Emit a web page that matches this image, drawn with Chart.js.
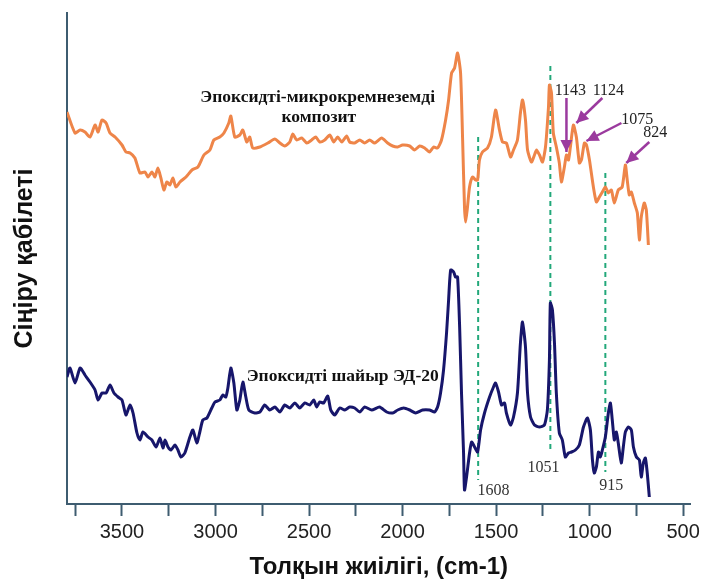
<!DOCTYPE html>
<html>
<head>
<meta charset="utf-8">
<script src="https://cdn.jsdelivr.net/npm/chart.js@4"></script>
<style>
  body { margin: 0; background: #fff; }
  canvas { display: block; }
</style>
</head>
<body>
<canvas id="chart" width="704" height="586"></canvas>
<script>
// wavenumbers (cm-1) and absorbance (arb. units)
const orangeWn = [3794,3751,3724,3698,3671,3644,3628,3607,3585,3564,3537,3500,3479,3457,3431,3404,3377,3361,3340,3324,3308,3292,3276,3260,3244,3228,3212,3190,3158,3126,3094,3062,3030,3009,2977,2955,2929,2918,2897,2870,2854,2833,2817,2801,2763,2720,2683,2656,2630,2603,2587,2566,2539,2512,2486,2464,2443,2416,2389,2368,2347,2325,2299,2283,2256,2229,2203,2176,2149,2112,2080,2053,2026,2000,1962,1936,1909,1882,1856,1834,1813,1792,1770,1754,1738,1722,1706,1690,1679,1669,1663,1653,1642,1626,1610,1599,1589,1573,1546,1525,1503,1482,1466,1445,1423,1407,1386,1370,1359,1343,1332,1311,1295,1284,1268,1252,1236,1220,1215,1204,1194,1178,1162,1151,1135,1124,1113,1103,1087,1071,1055,1044,1028,1017,1001,980,964,948,932,916,900,884,868,847,826,809,799,788,777,761,745,734,724,708,697,686];
const orangeAbs = [78.4,74.2,74.8,74.4,73.4,75.8,74.4,76.8,76.2,74.2,73.4,71.8,70.4,70.2,69.2,66.2,66.4,65.4,66.4,65.4,67.2,65.2,62.8,64.4,63.8,65.2,63.4,64.4,65.4,66.8,67.4,69.8,70.8,72.8,73.4,74.2,76.2,77.6,73.4,73.8,74.8,72.4,73.4,71.2,71.4,72.2,73.0,72.2,71.6,72.4,74.0,72.8,73.2,72.2,72.8,73.4,72.4,72.8,73.8,72.4,73.4,72.4,73.6,72.4,72.2,72.8,72.2,72.8,72.2,73.2,72.2,71.6,71.4,71.8,71.6,70.8,71.6,71.2,70.4,71.4,71.2,72.8,76.8,80.8,86.2,87.2,90.2,86.2,72.8,59.4,56.4,59.4,63.4,65.4,64.8,64.8,68.8,70.4,71.2,73.4,78.8,74.8,72.4,72.2,69.4,70.8,72.8,78.2,80.8,76.8,70.8,68.4,69.8,70.8,69.8,68.4,71.4,79.4,83.8,82.2,74.2,71.4,68.2,64.4,67.4,69.8,68.8,71.4,75.8,73.4,68.2,68.8,72.2,71.8,68.8,63.4,60.4,61.4,62.4,63.4,62.2,62.8,60.2,62.8,63.4,67.8,64.8,61.8,62.4,60.2,58.2,52.8,57.4,60.2,58.8,51.8];

const navyWn = [3794,3778,3751,3724,3698,3671,3644,3628,3607,3585,3564,3543,3521,3500,3479,3457,3441,3420,3404,3388,3361,3340,3318,3297,3281,3270,3254,3238,3217,3201,3185,3164,3137,3121,3100,3084,3068,3046,3020,3003,2977,2961,2945,2934,2918,2902,2886,2870,2854,2838,2822,2790,2763,2737,2710,2683,2656,2630,2603,2576,2550,2523,2496,2475,2459,2443,2422,2400,2384,2363,2336,2309,2283,2256,2229,2203,2165,2123,2085,2053,2026,1994,1962,1930,1893,1856,1829,1813,1797,1781,1765,1754,1743,1727,1717,1706,1695,1685,1674,1669,1658,1642,1631,1615,1599,1583,1562,1535,1514,1503,1487,1471,1455,1445,1423,1407,1386,1370,1359,1343,1332,1316,1295,1268,1242,1226,1215,1210,1199,1188,1178,1162,1146,1130,1113,1097,1076,1055,1033,1012,996,985,975,964,953,943,932,916,900,889,879,868,857,847,831,820,809,793,777,766,750,734,724,713,702,692,681];
const navyAbs = [25.4,27.2,24.2,27.2,25.8,24.4,22.8,20.8,22.2,22.2,23.8,22.2,21.4,20.8,17.8,19.8,18.2,14.2,12.8,14.4,13.4,12.8,11.4,13.2,11.2,12.8,11.4,10.8,11.8,10.8,9.4,10.2,13.4,14.8,12.2,14.4,16.8,17.2,19.2,20.4,20.8,21.8,21.4,23.2,27.2,24.2,18.8,20.8,24.4,21.4,18.8,18.2,18.4,19.8,18.8,19.4,18.4,19.8,19.2,20.2,19.2,20.2,19.8,20.8,19.4,20.4,20.2,21.6,18.8,17.8,19.2,18.8,19.4,19.2,18.4,19.4,18.8,19.4,18.4,18.2,18.8,19.2,18.8,18.2,18.8,18.8,18.4,19.4,22.2,26.8,34.2,40.8,46.8,46.4,45.4,45.4,35.4,22.2,10.2,2.8,5.4,10.2,12.4,11.4,10.4,14.8,18.2,21.4,23.4,24.2,22.4,19.8,20.2,18.2,15.8,17.4,22.2,32.2,36.4,31.4,22.2,17.4,15.8,15.4,15.8,18.8,28.8,40.2,38.8,32.2,22.2,14.2,12.8,9.4,10.2,10.4,10.8,11.8,15.4,17.2,14.8,8.8,6.2,7.4,10.4,9.4,10.8,13.4,18.2,20.2,16.8,12.8,14.4,12.2,8.2,11.4,14.4,15.4,14.8,11.4,9.4,8.8,5.4,8.2,9.2,6.2,1.4];

const tickValues = [3750,3500,3250,3000,2750,2500,2250,2000,1750,1500,1250,1000,750,500];
const tickLabels = ['','3500','','3000','','2500','','2000','','1500','','1000','','500'];

// dashed guide lines: position, top, bottom, label text and label position
const guideWn = [1596, 1210, 916];
const guideTop = [73.4, 87.6, 66.2];
const guideBottom = [4.8, 10.2, 6.4];
const guideText = ['1608', '1051', '915'];
const guideTextAt = [[1514, 2.6], [1247, 7.2], [884, 3.6]];

// arrows to the composite peaks
const peakText = ['1143', '1124', '1075', '824'];
const peakTextAt = [[1103, 82.6], [900, 82.6], [745, 76.8], [649, 74.2]];
const arrowTail = [[1124, 81.2], [932, 81.2], [830, 76.2], [681, 72.4]];
const arrowTip = [[1124, 70.4], [1071, 76.2], [1017, 72.6], [804, 68.2]];

const seriesText = ['Эпоксидті-микрокремнеземді', 'композит', 'Эпоксидті шайыр ЭД-20'];
const seriesTextAt = [[2454, 81.4], [2448, 77.4], [2320, 25.6]];

const axisColor = '#3e5c70';
const arrowColor = '#9b3a9e';
const guideColor = '#22a87a';

const datasets = [
  {
    label: 'composite',
    data: orangeWn.map((x, i) => ({ x: x, y: orangeAbs[i] })),
    borderColor: '#ee8549',
    borderWidth: 3,
    pointRadius: 0,
    tension: 0.2,
    order: 1,
  },
  {
    label: 'resin',
    data: navyWn.map((x, i) => ({ x: x, y: navyAbs[i] })),
    borderColor: '#17166b',
    borderWidth: 3,
    pointRadius: 0,
    tension: 0.2,
    order: 1,
  },
];

guideWn.forEach((wn, i) => {
  datasets.push({
    label: 'guide ' + guideText[i],
    data: [{ x: wn, y: guideTop[i] }, { x: wn, y: guideBottom[i] }],
    borderColor: guideColor,
    borderWidth: 2,
    borderDash: [5, 4],
    pointRadius: 0,
    order: 2,
  });
});

arrowTail.forEach((t, i) => {
  datasets.push({
    label: 'arrow ' + peakText[i],
    data: [{ x: t[0], y: t[1] }, { x: arrowTip[i][0], y: arrowTip[i][1] }],
    borderColor: arrowColor,
    borderWidth: 2.5,
    pointRadius: 0,
    arrow: true,
    order: 0,
  });
});

const arrowHeads = {
  id: 'arrowHeads',
  afterDatasetsDraw(chart) {
    const ctx = chart.ctx;
    chart.data.datasets.forEach((ds, i) => {
      if (!ds.arrow) return;
      const pts = chart.getDatasetMeta(i).data;
      const a = pts[0], b = pts[1];
      const ang = Math.atan2(b.y - a.y, b.x - a.x);
      const len = 12, half = 6;
      ctx.save();
      ctx.fillStyle = arrowColor;
      ctx.translate(b.x, b.y);
      ctx.rotate(ang);
      ctx.beginPath();
      ctx.moveTo(0, 0);
      ctx.lineTo(-len, -half);
      ctx.lineTo(-len, half);
      ctx.closePath();
      ctx.fill();
      ctx.restore();
    });
  },
};

const textLabels = {
  id: 'textLabels',
  afterDatasetsDraw(chart) {
    const ctx = chart.ctx;
    const xs = chart.scales.x, ys = chart.scales.y;
    const put = (txt, at, font, color) => {
      ctx.save();
      ctx.font = font;
      ctx.fillStyle = color;
      ctx.textAlign = 'center';
      ctx.textBaseline = 'middle';
      ctx.fillText(txt, xs.getPixelForValue(at[0]), ys.getPixelForValue(at[1]));
      ctx.restore();
    };
    seriesText.forEach((t, i) => put(t, seriesTextAt[i], 'bold 17.5px "Liberation Serif"', '#111'));
    peakText.forEach((t, i) => put(t, peakTextAt[i], '16px "Liberation Serif"', '#222'));
    guideText.forEach((t, i) => put(t, guideTextAt[i], '16px "Liberation Serif"', '#333'));
  },
};

new Chart(document.getElementById('chart'), {
  type: 'line',
  data: { datasets: datasets },
  options: {
    responsive: false,
    animation: false,
    layout: { padding: { left: 9, right: 12, top: 13, bottom: 0 } },
    plugins: { legend: { display: false }, tooltip: { enabled: false } },
    scales: {
      x: {
        type: 'linear',
        reverse: true,
        min: 460,
        max: 3794,
        afterBuildTicks: (scale) => {
          scale.ticks = tickValues.map((v) => ({ value: v }));
        },
        afterFit: (scale) => { scale.height = 82; },
        ticks: {
          autoSkip: false,
          maxRotation: 0,
          padding: 4,
          color: '#222',
          font: { family: '"Liberation Sans"', size: 20 },
          callback: (v, i) => tickLabels[i],
        },
        grid: {
          drawOnChartArea: false,
          tickLength: 12,
          tickWidth: 2,
          tickColor: axisColor,
        },
        border: { display: true, color: axisColor, width: 2 },
        title: {
          display: true,
          text: 'Толқын жиілігі, (cm-1)',
          color: '#111',
          font: { family: '"Liberation Sans"', size: 24, weight: 'bold' },
          padding: { top: 0, bottom: 4 },
        },
      },
      y: {
        min: 0,
        max: 98.2,
        afterFit: (scale) => { scale.width = 58; },
        ticks: { display: false },
        grid: { drawOnChartArea: false, drawTicks: false },
        border: { display: true, color: axisColor, width: 2 },
        title: {
          display: true,
          text: 'Сіңіру қабілеті',
          color: '#111',
          font: { family: '"Liberation Sans"', size: 25, weight: 'bold' },
          padding: { top: 1, bottom: 0 },
        },
      },
    },
  },
  plugins: [arrowHeads, textLabels],
});
</script>
</body>
</html>
